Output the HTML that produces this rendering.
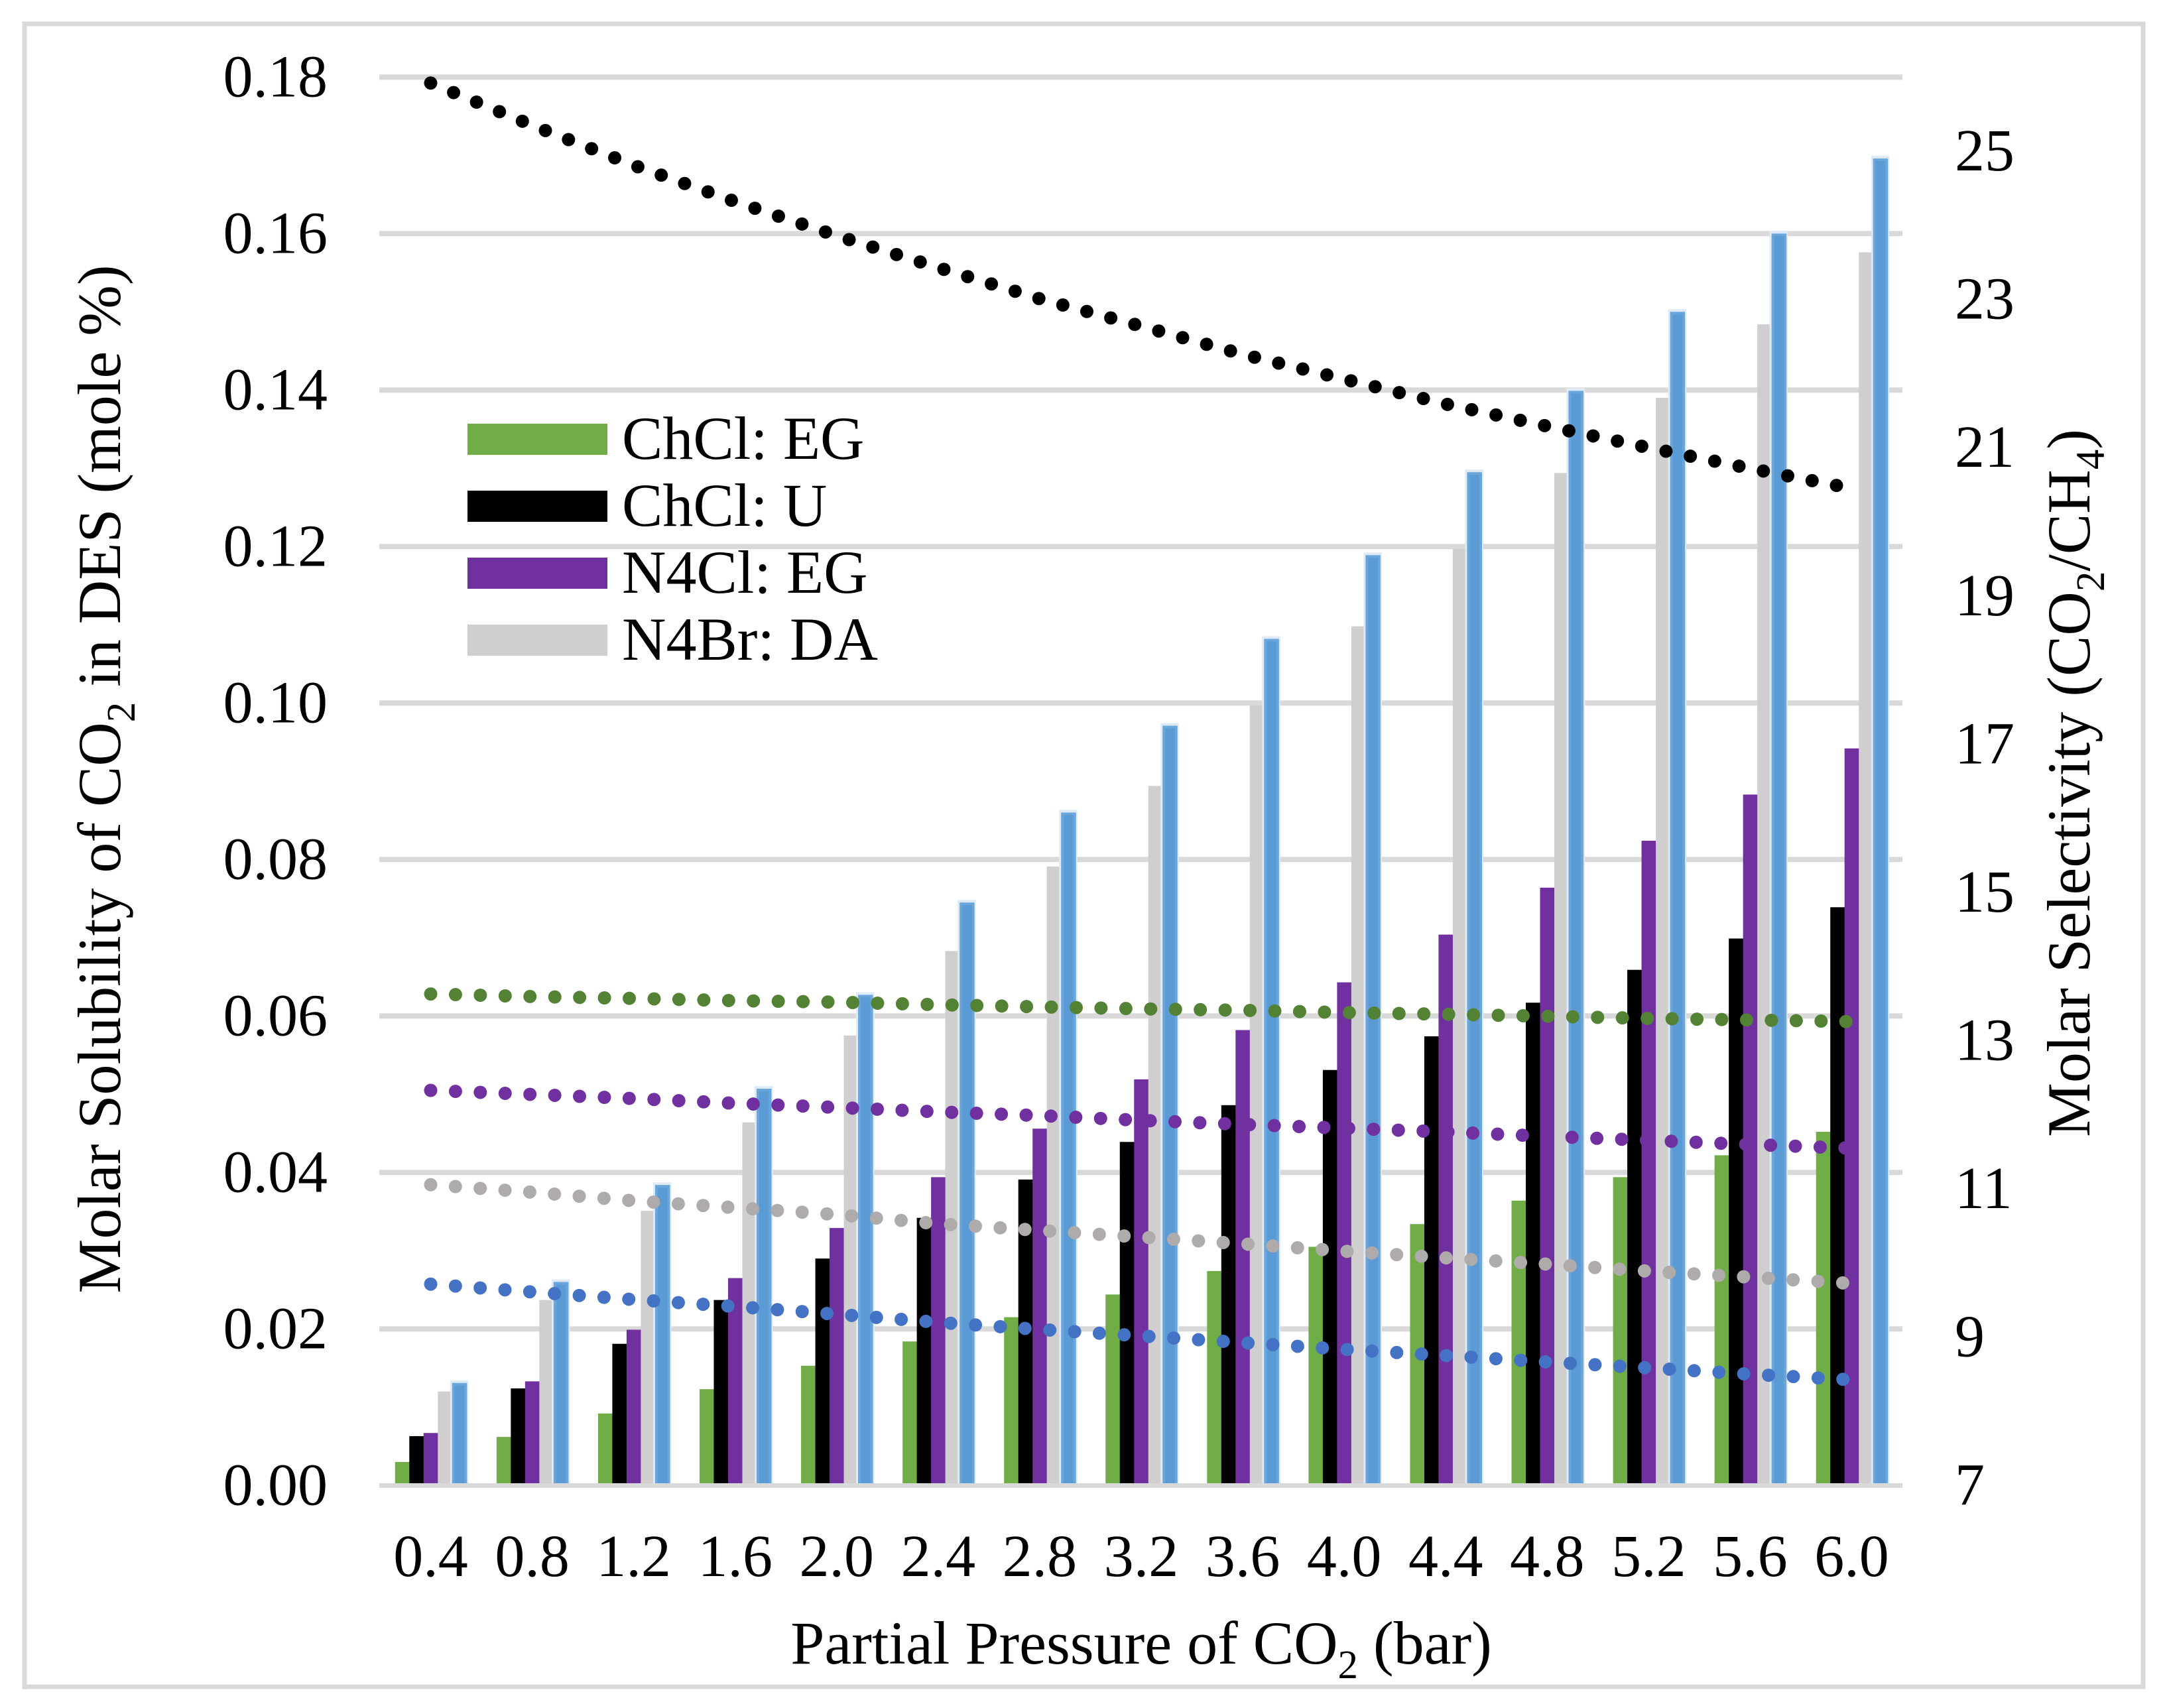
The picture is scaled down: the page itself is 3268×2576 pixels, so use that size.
<!DOCTYPE html>
<html lang="en">
<head>
<meta charset="utf-8">
<title>Molar solubility and selectivity chart</title>
<style>
html,body{margin:0;padding:0;background:#fff;}
#chart{display:block;width:3268px;height:2576px;}
text{font-family:"Liberation Serif",serif;font-size:92px;fill:#000;}
</style>
</head>
<body>
<svg id="chart" xmlns="http://www.w3.org/2000/svg" width="3268" height="2576" viewBox="0 0 3268 2576">
  <rect x="0" y="0" width="3268" height="2576" fill="#ffffff"/>
  <rect x="37" y="36" width="3195" height="2508" fill="none" stroke="#d9d9d9" stroke-width="7"/>
  <g id="grid"></g>
  <g id="bars"></g>
  <g id="axis"></g>
  <g id="lines"></g>
  <g id="ticks"></g>

  <g>
    <rect x="705" y="639" width="211" height="47" fill="#70ad47"/>
    <text x="938" y="692">ChCl: EG</text>
    <rect x="705" y="740" width="211" height="47" fill="#000000"/>
    <text x="938" y="793">ChCl: U</text>
    <rect x="705" y="841" width="211" height="47" fill="#7030a0"/>
    <text x="938" y="894">N4Cl: EG</text>
    <rect x="705" y="942" width="211" height="47" fill="#d0cece"/>
    <text x="938" y="995">N4Br: DA</text>
  </g>

  <text x="181" y="1175" text-anchor="middle" transform="rotate(-90 181 1175)">Molar Solubility of CO<tspan font-size="61" dy="22">2</tspan><tspan dy="-22"> in DES (mole %)</tspan></text>
  <text x="3151" y="1181" text-anchor="middle" transform="rotate(-90 3151 1181)">Molar Selectivity (CO<tspan font-size="61" dy="22">2</tspan><tspan dy="-22">/CH</tspan><tspan font-size="61" dy="22">4</tspan><tspan dy="-22">)</tspan></text>
  <text x="1721" y="2509" text-anchor="middle">Partial Pressure of CO<tspan font-size="61" dy="22">2</tspan><tspan dy="-22"> (bar)</tspan></text>
</svg>

<script>
const categories = ["0.4","0.8","1.2","1.6","2.0","2.4","2.8","3.2","3.6","4.0","4.4","4.8","5.2","5.6","6.0"];
const leftTicks = ["0.00","0.02","0.04","0.06","0.08","0.10","0.12","0.14","0.16","0.18"];
const rightTicks = ["7","9","11","13","15","17","19","21","23","25"];

const solubilityChClEG = [0.0030,0.0062,0.0092,0.0123,0.0153,0.0184,0.0215,0.0244,0.0274,0.0305,0.0334,0.0364,0.0394,0.0422,0.0452];
const solubilityChClU = [0.0063,0.0124,0.0181,0.0237,0.0290,0.0342,0.0391,0.0439,0.0486,0.0531,0.0574,0.0617,0.0659,0.0699,0.0739];
const solubilityN4ClEG = [0.0067,0.0133,0.0199,0.0265,0.0329,0.0394,0.0456,0.0519,0.0582,0.0643,0.0704,0.0764,0.0824,0.0883,0.0942];
const solubilityN4BrDA = [0.0120,0.0237,0.0351,0.0464,0.0575,0.0683,0.0791,0.0894,0.0997,0.1098,0.1197,0.1294,0.1390,0.1484,0.1576];
const solubilityFifth = [0.0131,0.0260,0.0384,0.0507,0.0627,0.0745,0.0860,0.0971,0.1082,0.1189,0.1295,0.1399,0.1500,0.1600,0.1696];

const selectivityBlack = [25.92,25.35,24.81,24.32,23.86,23.43,23.01,22.64,22.26,21.925,21.59,21.29,21.00,20.72,20.45];
const selectivityGreen = [13.63,13.595,13.57,13.54,13.52,13.485,13.457,13.43,13.41,13.38,13.357,13.33,13.30,13.28,13.257];
const selectivityPurple = [12.33,12.275,12.22,12.155,12.10,12.04,11.99,11.925,11.87,11.82,11.77,11.71,11.655,11.60,11.55];
const selectivityGray = [11.057,10.956,10.84,10.747,10.655,10.53,10.44,10.35,10.26,10.16,10.07,9.985,9.89,9.81,9.725];
const selectivityBlue = [9.716,9.61,9.507,9.414,9.31,9.20,9.105,9.017,8.926,8.836,8.752,8.666,8.586,8.50,8.425];

const NS = "http://www.w3.org/2000/svg";
const plotLeft = 573, plotRight = 2869, plotBottom = 2240.3, plotTop = 116.3;
const leftMax = 0.18, rightMin = 7, rightMax = 26;
const barW = 21.5;

function xCenter(i){ return plotLeft + (plotRight - plotLeft) / categories.length * (i + 0.5); }
function yLeft(v){ return plotBottom - v / leftMax * (plotBottom - plotTop); }
function yRight(v){ return plotBottom - (v - rightMin) / (rightMax - rightMin) * (plotBottom - plotTop); }
function make(tag, attrs){
  const el = document.createElementNS(NS, tag);
  for (const k in attrs) el.setAttribute(k, attrs[k]);
  return el;
}

const gridG = document.getElementById("grid");
leftTicks.forEach(function(t){
  const v = parseFloat(t);
  if (v === 0) return;
  const ln = make("rect", {x: 572, y: yLeft(v) - 4, width: 2297, height: 8, fill: "#d9d9d9"});
  
  
  gridG.appendChild(ln);
});

const barSeries = [
  {key: "chcl-eg", values: solubilityChClEG, color: "#70ad47"},
  {key: "chcl-u", values: solubilityChClU, color: "#000000"},
  {key: "n4cl-eg", values: solubilityN4ClEG, color: "#7030a0"},
  {key: "n4br-da", values: solubilityN4BrDA, color: "#d0cece"},
  {key: "fifth", values: solubilityFifth, color: "#5b9bd5"}
];
const barsG = document.getElementById("bars");
barSeries.forEach(function(s, si){
  s.values.forEach(function(v, i){
    const x = xCenter(i) + (si - 2.5) * barW;
    const y = yLeft(v);
    const h = plotBottom - y;
    if (si === 4) {
      const halo = make("rect", {x: x - 3, y: y - 4, width: barW + 6, height: h + 4, fill: "#deebf7"});
      
      
      barsG.appendChild(halo);
      const edge = make("rect", {x: x, y: y, width: barW + 1, height: h, fill: "#6aa5dc"});
      
      
      barsG.appendChild(edge);
      const core = make("rect", {x: x + 4, y: y + 4, width: barW - 7, height: h - 4, fill: s.color});
      
      
      barsG.appendChild(core);
    } else {
      const bar = make("rect", {x: x, y: y, width: barW + 0.4, height: h, fill: s.color});
      
      
      barsG.appendChild(bar);
    }
  });
});

const axisG = document.getElementById("axis");
const axisLine = make("rect", {x: 572, y: 2237, width: 2297, height: 7, fill: "#d9d9d9"});


axisG.appendChild(axisLine);

const lineSeries = [
  {values: selectivityBlack, color: "#000000"},
  {values: selectivityGreen, color: "#548235"},
  {values: selectivityPurple, color: "#7030a0"},
  {values: selectivityGray, color: "#afabab"},
  {values: selectivityBlue, color: "#4472c4"}
];
const linesG = document.getElementById("lines");
lineSeries.forEach(function(s){
  const pts = s.values.map(function(v, i){ return xCenter(i).toFixed(1) + "," + yRight(v).toFixed(1); }).join(" ");
  const pl = make("polyline", {points: pts, fill: "none", stroke: s.color, "stroke-width": 20, "stroke-linecap": "round", "stroke-dasharray": "0 37.45"});
  
  
  linesG.appendChild(pl);
});

const ticksG = document.getElementById("ticks");
leftTicks.forEach(function(t){
  const el = make("text", {x: 494, y: yLeft(parseFloat(t)) + 29, "text-anchor": "end", "font-size": 90, style: "font-size:90px"});
  el.textContent = t;
  
  
  ticksG.appendChild(el);
});
rightTicks.forEach(function(t){
  const el = make("text", {x: 2948, y: yRight(parseFloat(t)) + 29, style: "font-size:90px"});
  el.textContent = t;
  
  
  ticksG.appendChild(el);
});
categories.forEach(function(t, i){
  const el = make("text", {x: xCenter(i), y: 2377, "text-anchor": "middle", style: "font-size:90px"});
  el.textContent = t;
  
  
  ticksG.appendChild(el);
});
</script>
</body>
</html>
